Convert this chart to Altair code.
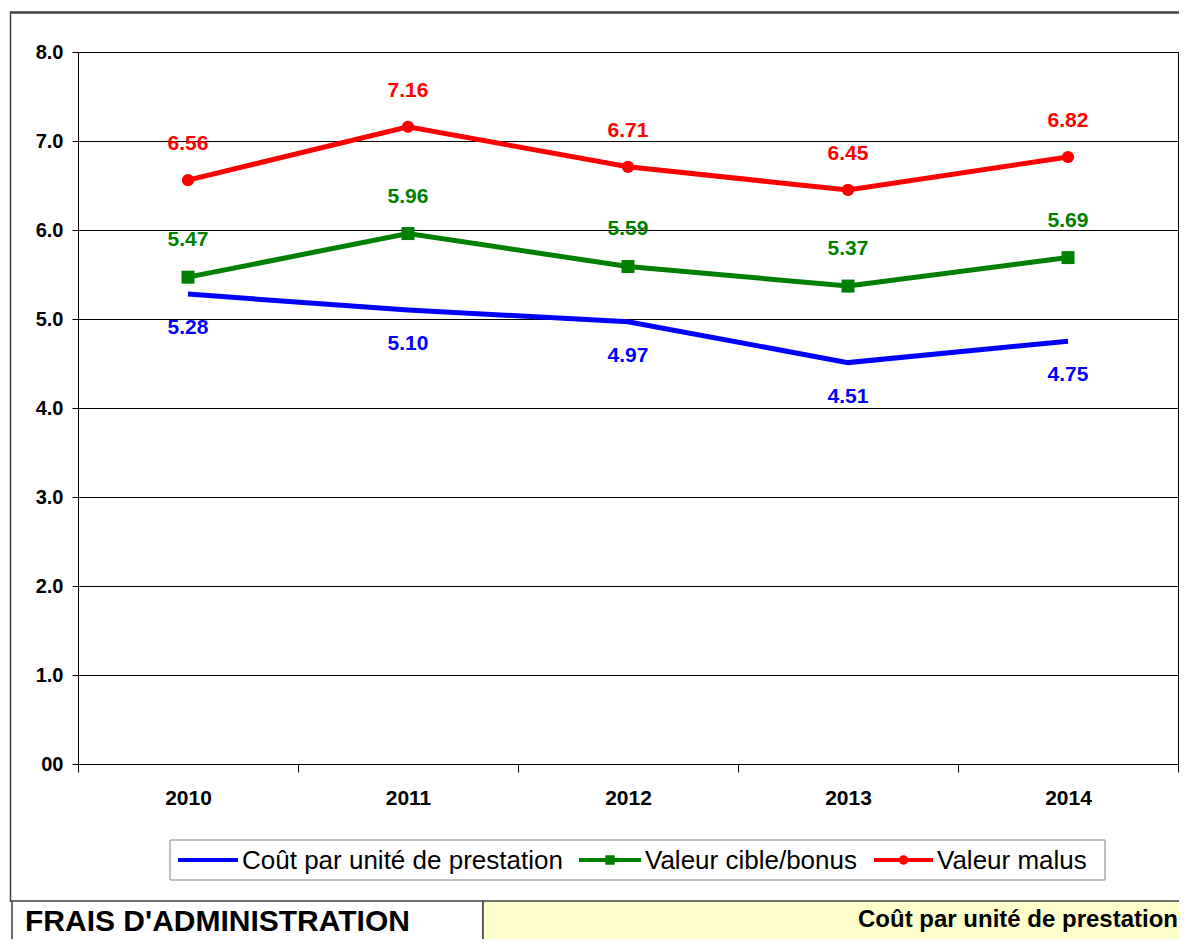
import altair as alt
import pandas as pd

years = ["2010", "2011", "2012", "2013", "2014"]
cout = [5.28, 5.10, 4.97, 4.51, 4.75]
cible = [5.47, 5.96, 5.59, 5.37, 5.69]
malus = [6.56, 7.16, 6.71, 6.45, 6.82]

series_names = ["Coût par unité de prestation", "Valeur cible/bonus", "Valeur malus"]
series_colors = ["#0000FF", "#008000", "#FF0000"]

rows = []
for name, vals in zip(series_names, [cout, cible, malus]):
    for y, v in zip(years, vals):
        rows.append({"year": y, "value": v, "series": name})
df = pd.DataFrame(rows)
dummy = pd.DataFrame({"d": [0]})

FONT = "Liberation Sans"
W, H = 1100, 712

x_enc = alt.X(
    "year:O",
    scale=alt.Scale(type="band", paddingInner=0, paddingOuter=0),
    axis=alt.Axis(
        title=None, labelAngle=0, tickBand="extent", tickSize=8, tickColor="#000000",
        domainColor="#000000", labelFont=FONT, labelFontSize=21, labelFontWeight="bold",
        labelColor="#000000", labelPadding=15, grid=False,
    ),
)
y_enc = alt.Y(
    "value:Q",
    scale=alt.Scale(domain=[0, 8], nice=False),
    axis=alt.Axis(
        title=None, values=[0, 1, 2, 3, 4, 5, 6, 7, 8], grid=True, gridColor="#000000",
        gridWidth=1, tickSize=6, tickColor="#000000", domainColor="#000000",
        labelFont=FONT, labelFontSize=20, labelFontWeight="bold", labelColor="#000000",
        labelPadding=9,
        labelExpr="datum.value == 0 ? '00' : format(datum.value, '.1f')",
    ),
)
color_enc = alt.Color(
    "series:N",
    scale=alt.Scale(domain=series_names, range=series_colors),
    legend=None,
)

base = alt.Chart(df)
lines = base.mark_line(strokeWidth=5).encode(x=x_enc, y=y_enc, color=color_enc, order=alt.Order("year:O"))
squares = base.transform_filter(alt.datum.series == series_names[1]).mark_point(
    shape="square", filled=True, size=169, opacity=1, color="#008000"
).encode(x="year:O", y="value:Q")
circles = base.transform_filter(alt.datum.series == series_names[2]).mark_point(
    shape="circle", filled=True, size=150, opacity=1, color="#FF0000"
).encode(x="year:O", y="value:Q")


def labels(name, color, dy):
    return base.transform_filter(alt.datum.series == name).mark_text(
        font=FONT, fontSize=21, fontWeight="bold", color=color, dy=dy, baseline="middle"
    ).encode(x="year:O", y="value:Q", text=alt.Text("value:Q", format=".2f"))


lab_blue = labels(series_names[0], "#0000FF", 34)
lab_green = labels(series_names[1], "#008000", -37)
lab_red = labels(series_names[2], "#FF0000", -36)

deco = alt.Chart(dummy)
# outer frame (top and left edges)
frame_top = deco.mark_rule(color="#404040", strokeWidth=2.5).encode(
    x=alt.value(-68), x2=alt.value(1101), y=alt.value(-39.5))
frame_left = deco.mark_rule(color="#404040", strokeWidth=1.5).encode(
    x=alt.value(-67.5), y=alt.value(-40), y2=alt.value(850))

# legend
leg_box = deco.mark_rect(fill="#FFFFFF", stroke="#808080", strokeWidth=1).encode(
    x=alt.value(92), x2=alt.value(1027), y=alt.value(788), y2=alt.value(828))
leg_items = []
leg_specs = [
    (100, 160, None, series_names[0], "#0000FF", 164),
    (501, 563, "square", series_names[1], "#008000", 567),
    (796, 855, "circle", series_names[2], "#FF0000", 859),
]
for x1, x2, shape, name, color, tx in leg_specs:
    leg_items.append(deco.mark_rule(color=color, strokeWidth=4).encode(
        x=alt.value(x1), x2=alt.value(x2), y=alt.value(808)))
    if shape:
        leg_items.append(deco.mark_point(shape=shape, filled=True, size=90, opacity=1, color=color).encode(
            x=alt.value((x1 + x2) / 2), y=alt.value(808)))
    leg_items.append(deco.mark_text(font=FONT, fontSize=26, align="left", baseline="middle",
                                    color="#000000").encode(
        x=alt.value(tx), y=alt.value(809), text=alt.value(name)))

# bottom header boxes
box_left = deco.mark_rect(fill="#FFFFFF", stroke="#404040", strokeWidth=1.5).encode(
    x=alt.value(-66), x2=alt.value(405), y=alt.value(849), y2=alt.value(900))
box_right = deco.mark_rect(fill="#FFFFCC", stroke="#404040", strokeWidth=1.5).encode(
    x=alt.value(405), x2=alt.value(1110), y=alt.value(849), y2=alt.value(900))
txt_left = deco.mark_text(font=FONT, fontSize=30, fontWeight="bold", align="left",
                          baseline="middle", color="#000000").encode(
    x=alt.value(-53), y=alt.value(870), text=alt.value("FRAIS D'ADMINISTRATION"))
txt_right = deco.mark_text(font=FONT, fontSize=24, fontWeight="bold", align="right",
                           baseline="middle", color="#000000").encode(
    x=alt.value(1100), y=alt.value(868), text=alt.value("Coût par unité de prestation"))

chart = alt.layer(
    lines, squares, circles, lab_blue, lab_green, lab_red,
    frame_top, frame_left, leg_box, *leg_items, box_left, box_right, txt_left, txt_right,
).properties(
    width=W, height=H,
    autosize=alt.AutoSizeParams(type="none"),
    padding={"left": 70, "top": 44, "right": 1, "bottom": 175},
    background="#FFFFFF",
).configure_view(stroke="#000000", strokeWidth=1)

chart.save("out.html", embed_options={"renderer": "svg", "actions": False})
